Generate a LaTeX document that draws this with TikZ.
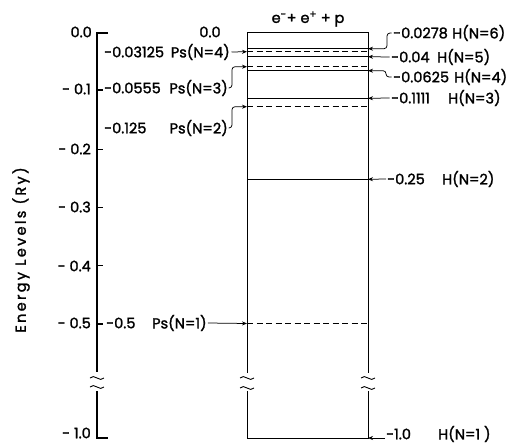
\documentclass[tikz,border=0pt]{standalone}
\usepackage{fontspec}
\setmainfont{Poppins}
\usetikzlibrary{arrows.meta}
\begin{document}
\begin{tikzpicture}[x=1pt,y=-1pt,
  lab/.style={font=\fontsize{14.5}{16}\selectfont\addfontfeature{FakeBold=1.6}, inner sep=0pt},
  axisline/.style={line width=1.2pt},
  lvl/.style={line width=1pt},
  dlvl/.style={line width=1pt, dash pattern=on 6pt off 3.5pt},
  arr/.style={line width=0.75pt, -{Stealth[length=5pt,width=4pt]}},
  brk/.style={line width=0.9pt}]
\useasboundingbox (0,0) rectangle (516,444);
% ---------- axis ----------
\coordinate (axtopR) at (108,33);
\coordinate (axtop) at (97,33);
\coordinate (axbrkA) at (97,372);
\coordinate (axbrkB) at (97,391);
\coordinate (axbot) at (97,438);
\coordinate (axbotR) at (108,438);
\draw[axisline] (axtopR) -- (axtop) -- (axbrkA);
\draw[axisline] (axbrkB) -- (axbot) -- (axbotR);
\draw[brk] (90,378) .. controls (94,373) and (100,383) .. (104,378);
\draw[brk] (90,387) .. controls (94,382) and (100,392) .. (104,387);
\foreach \v in {90,149.4,207.6,265.8,324}{
  \draw[axisline] (97,\v) -- (103,\v);
}
\node[lab, anchor=east] (t0) at (92,32) {0.0};
\node[lab, anchor=east] (t1) at (91,89) {- 0.1};
\node[lab, anchor=east] (t2) at (91,149) {- 0.2};
\node[lab, anchor=east] (t3) at (91,207) {- 0.3};
\node[lab, anchor=east] (t4) at (91,266) {- 0.4};
\node[lab, anchor=east] (t5) at (91,323) {- 0.5};
\node[lab, anchor=east] (t10) at (91,433) {- 1.0};
\node[lab, rotate=90] (ylab) at (21,250) {\addfontfeature{LetterSpace=16}Energy Levels (Ry)};
% ---------- box ----------
\coordinate (bTL) at (247,33);
\coordinate (bTR) at (368,33);
\draw[lvl] (247,373) -- (bTL) -- (bTR) -- (368,373);
\draw[lvl] (247,391) -- (247,438) -- (368,438) -- (368,391);
\draw[brk] (240,378) .. controls (244,373) and (250,383) .. (254,378);
\draw[brk] (240,388) .. controls (244,383) and (250,393) .. (254,388);
\draw[brk] (361,378) .. controls (365,373) and (371,383) .. (375,378);
\draw[brk] (361,388) .. controls (365,383) and (371,393) .. (375,388);
\node[lab] (top) at (308,19) {e\textsuperscript{-}+ e\textsuperscript{+} + p};
\node[lab] (zero) at (210,32) {0.0};
% levels
\foreach \n/\y/\s in {h6/48.7/lvl, p4/51.7/dlvl, h5/56.7/lvl, p3/66.7/dlvl, h4/70.7/lvl, h3/98.3/lvl, p2/106.7/dlvl, h2/179.3/lvl, p1/323.5/dlvl}{
  \coordinate (\n L) at (247,\y);
  \coordinate (\n R) at (368,\y);
  \draw[\s] (\n L) -- (\n R);
}
\coordinate (h1R) at (368,438);
% ---------- left labels ----------
\node[lab, anchor=west] (v4) at (104,52) {-0.03125};
\node[lab, anchor=east] (n4) at (230,52) {Ps(N=4)};
\node[lab, anchor=west] (v3) at (104,88) {-0.0555};
\node[lab, anchor=east] (n3) at (228,88) {Ps(N=3)};
\node[lab, anchor=west] (v2) at (104,128) {-0.125};
\node[lab, anchor=east] (n2) at (228,128) {Ps(N=2)};
\node[lab, anchor=west] (v1) at (106,323) {-0.5};
\node[lab, anchor=west] (n1) at (152,323) {Ps(N=1)};
\draw[arr] ([xshift=1.5pt]n4.east) -- (p4L);
\draw[arr, rounded corners=3pt] ([xshift=0.5pt]n3.east) -| (232,66.7) -- (p3L);
\draw[arr, rounded corners=3pt] ([xshift=0.5pt]n2.east) -| (232,106.7) -- (p2L);
\draw[arr] ([xshift=1pt]n1.east) -- (p1L);
% ---------- right labels ----------
\node[lab, anchor=west] (w6) at (393,33) {-0.0278};
\node[lab, anchor=west] (m6) at (452,33) {H(N=6)};
\node[lab, anchor=west] (w5) at (391,57) {-0.04};
\node[lab, anchor=west] (m5) at (437,57) {H(N=5)};
\node[lab, anchor=west] (w4) at (393,77) {-0.0625};
\node[lab, anchor=west] (m4) at (454,77) {H(N=4)};
\node[lab, anchor=west] (w3) at (391,98) {-0.1111};
\node[lab, anchor=west] (m3) at (448,98) {H(N=3)};
\node[lab, anchor=west] (w2) at (387,179) {-0.25};
\node[lab, anchor=west] (m2) at (442,179) {H(N=2)};
\node[lab, anchor=west] (w1) at (386,434) {-1.0};
\node[lab, anchor=west] (m1) at (438,434) {H(N=1 )};
\draw[arr, rounded corners=3pt] ([xshift=-1.5pt]w6.west) -| (387,48.7) -- (h6R);
\draw[arr] ([xshift=-1.5pt]w5.west) -- (h5R);
\draw[arr, rounded corners=3pt] ([xshift=-1.5pt]w4.west) -| (386,70.7) -- (h4R);
\draw[arr] ([xshift=-1.5pt]w3.west) -- (h3R);
\draw[arr] ([xshift=-1pt]w2.west) -- (h2R);
\draw[arr] ([xshift=-1pt]w1.west |- h1R) -- (h1R);
\end{tikzpicture}
\end{document}
